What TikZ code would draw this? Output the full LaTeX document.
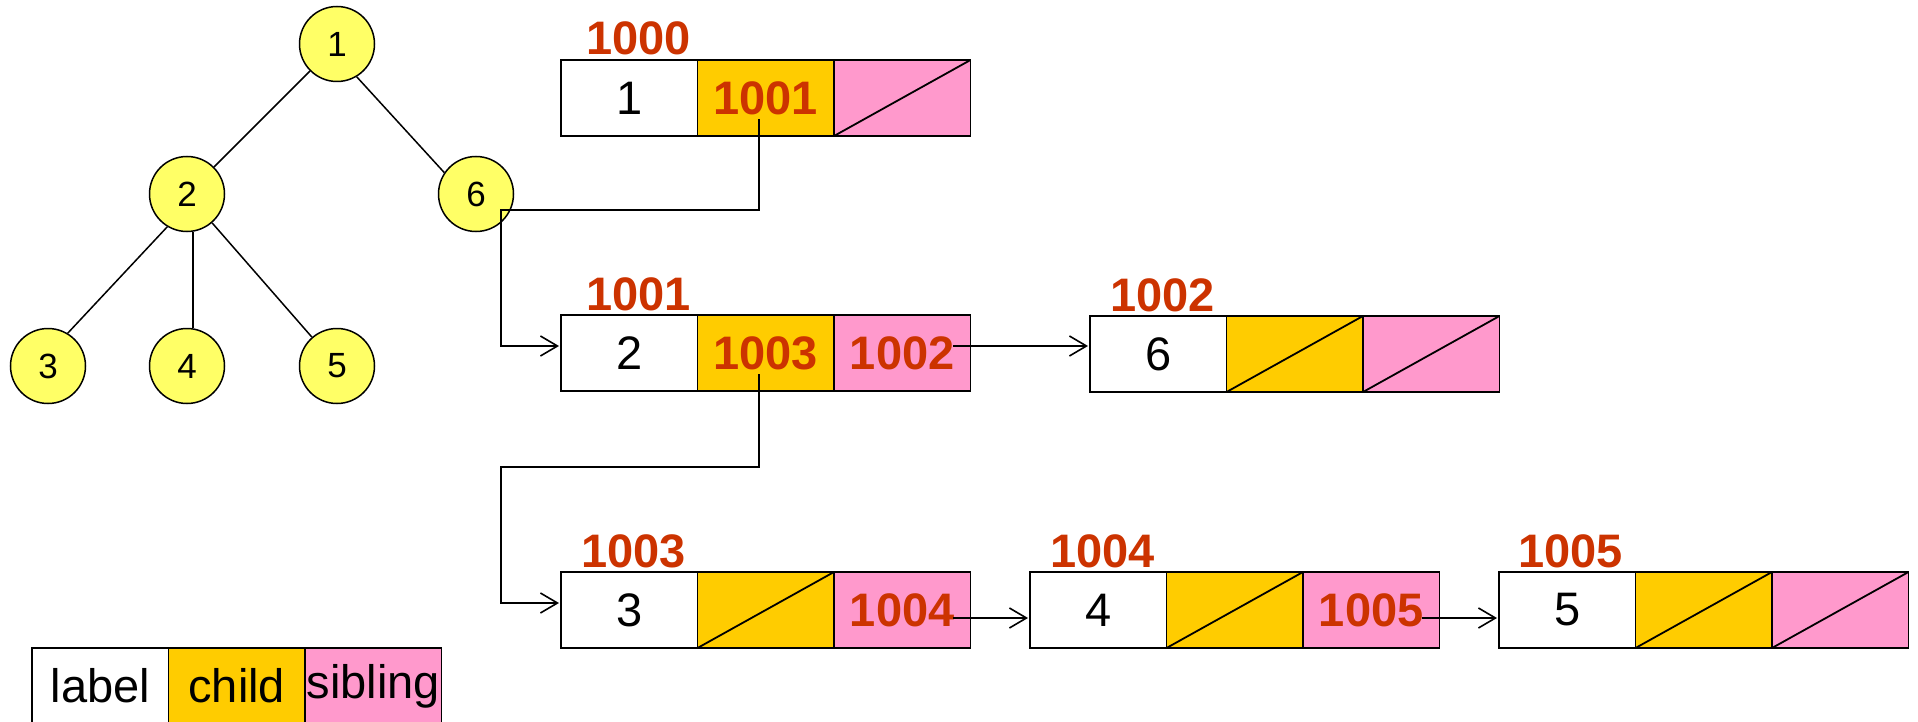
\documentclass[tikz,border=0pt]{standalone}
\usepackage{fontspec}
\setmainfont{Liberation Sans}
\usetikzlibrary{arrows.meta}
\definecolor{treec}{HTML}{FFFF66}
\definecolor{childc}{HTML}{FFCC00}
\definecolor{sibc}{HTML}{FF99CC}
\definecolor{addrc}{HTML}{CC3300}
\newcommand\cellfont{\fontsize{47}{56}\selectfont}
\newcommand\addrfont{\bfseries\fontsize{47}{56}\selectfont}
\newcommand\treefont{\fontsize{35}{42}\selectfont}
\begin{document}
\begin{tikzpicture}[x=1pt,y=-1pt,
  cell/.style={draw, line width=1.8pt, minimum width=136.5pt, minimum height=76pt,
    inner sep=0pt, outer sep=0pt, font=\cellfont},
  labcell/.style={cell, fill=white},
  chicell/.style={cell, fill=childc, anchor=west},
  sibcell/.style={cell, fill=sibc, anchor=west},
  ptrtext/.style={text=addrc, font=\addrfont},
  nil/.style={path picture={\draw[line width=1.8pt] (path picture bounding box.south west) -- (path picture bounding box.north east);}},
  addr/.style={text=addrc, font=\addrfont, anchor=base west, inner sep=0pt},
  tnode/.style={circle, draw, fill=treec, minimum size=75pt, inner sep=0pt, line width=1.5pt, font=\treefont},
  tedge/.style={line width=1.5pt},
  link/.style={line width=1.6pt, shorten >=2pt, -{Straight Barb[length=17pt,width=20pt]}}
]
\useasboundingbox (0,0) rectangle (1918,722);
\clip (0,0) rectangle (1918,722);

% tree
\node[tnode] (t1) at (337,44) {1};
\node[tnode] (t2) at (187,194) {2};
\node[tnode] (t6) at (476,194) {6};
\node[tnode] (t3) at (48,366) {3};
\node[tnode] (t4) at (187,366) {4};
\node[tnode] (t5) at (337,366) {5};
\draw[tedge] (t1) -- (t2);
\draw[tedge] (t1.301) -- (t6.146);
\draw[tedge] (t2.239) -- (t3.59);
\draw[tedge] (t2.279) -- (t4.81);
\draw[tedge] (t2.311) -- (t5.131);

% record 1000
\node[labcell] (r0l) at (629.25,98) {1};
\node[chicell, ptrtext] (r0c) at (r0l.east) {1001};
\node[sibcell, nil] (r0s) at (r0c.east) {};
\node[addr] at ([shift={(25,-5)}]r0l.north west) {1000};

% record 1001
\node[labcell] (r1l) at (629.25,353) {2};
\node[chicell, ptrtext] (r1c) at (r1l.east) {1003};
\node[sibcell, ptrtext] (r1s) at (r1c.east) {1002};
\node[addr] at ([shift={(25,-5)}]r1l.north west) {1001};

% record 1002
\node[labcell] (r2l) at (1158.25,354) {6};
\node[chicell, nil] (r2c) at (r2l.east) {};
\node[sibcell, nil] (r2s) at (r2c.east) {};
\node[addr] at ([shift={(20,-5)}]r2l.north west) {1002};

% record 1003
\node[labcell] (r3l) at (629.25,610) {3};
\node[chicell, nil] (r3c) at (r3l.east) {};
\node[sibcell, ptrtext] (r3s) at (r3c.east) {1004};
\node[addr] at ([shift={(20,-5)}]r3l.north west) {1003};

% record 1004
\node[labcell] (r4l) at (1098.25,610) {4};
\node[chicell, nil] (r4c) at (r4l.east) {};
\node[sibcell, ptrtext] (r4s) at (r4c.east) {1005};
\node[addr] at ([shift={(20,-5)}]r4l.north west) {1004};

% record 1005
\node[labcell] (r5l) at (1567.25,610) {5};
\node[chicell, nil] (r5c) at (r5l.east) {};
\node[sibcell, nil] (r5s) at (r5c.east) {};
\node[addr] at ([shift={(19,-5)}]r5l.north west) {1005};

% legend
\node[labcell] (g1) at (100.25,686) {label};
\node[chicell] (g2) at (g1.east) {child};
\node[sibcell] (g3) at (g2.east) {sibling};

% connectors
\coordinate (k1) at (501,210);
\coordinate (k2) at (501,467);
\draw[link] ([shift={(-7,21)}]r0c.center) |- (k1) |- ([shift={(0,-7)}]r1l.west);
\draw[link] ([shift={(-7,21)}]r1c.center) |- (k2) |- ([shift={(0,-7)}]r3l.west);
\draw[link] ([shift={(51,-7)}]r1s.center) -- ([shift={(0,-8)}]r2l.west);
\draw[link] ([shift={(51,8)}]r3s.center) -- ([shift={(0,8)}]r4l.west);
\draw[link] ([shift={(51,8)}]r4s.center) -- ([shift={(0,8)}]r5l.west);
\end{tikzpicture}
\end{document}
